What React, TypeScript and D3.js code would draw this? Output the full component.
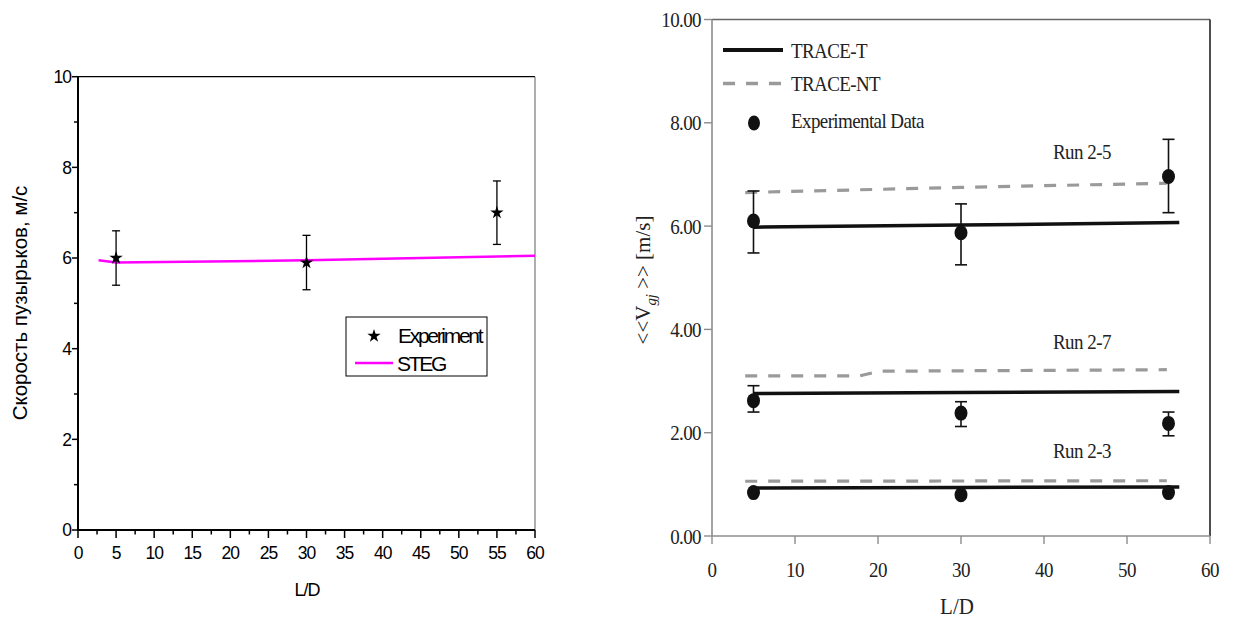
import React from "react";
import * as d3 from "d3";

// ---------- Left chart data ----------
const leftXTicks = [0, 5, 10, 15, 20, 25, 30, 35, 40, 45, 50, 55, 60];
const leftYTicks = [0, 2, 4, 6, 8, 10];
const expX = [5, 30, 55];
const expY = [6.0, 5.9, 7.0];
const expErr = [0.6, 0.6, 0.7];
const stegX = [2.7, 5, 30, 60];
const stegY = [5.95, 5.9, 5.95, 6.05];

// ---------- Right chart data ----------
const rightXTicks = [0, 10, 20, 30, 40, 50, 60];
const rightYTicks = [0, 2, 4, 6, 8, 10];
const rExpX = [5, 30, 55];
const run25Exp = [6.1, 5.87, 6.96];
const run25Lo = [5.48, 5.25, 6.26];
const run25Hi = [6.68, 6.43, 7.68];
const run27Exp = [2.62, 2.38, 2.18];
const run27Lo = [2.4, 2.12, 1.94];
const run27Hi = [2.91, 2.6, 2.4];
const run23Exp = [0.84, 0.8, 0.84];
const traceTX = [5, 30, 56.3];
const run25T = [5.98, 6.02, 6.07];
const run27T = [2.76, 2.78, 2.8];
const run23T = [0.93, 0.94, 0.95];
const run25NTX = [4, 30, 54.8];
const run25NT = [6.65, 6.75, 6.83];
const run27NTX = [4, 17.8, 20.2, 54.8];
const run27NT = [3.1, 3.1, 3.19, 3.22];
const run23NTX = [4, 54.8];
const run23NT = [1.06, 1.07];

const ARIAL = "'Liberation Sans', Arial, sans-serif";
const TIMES = "'Liberation Serif', 'Times New Roman', serif";

function SText(props: {
  x: number;
  y: number;
  sy?: number;
  anchor?: string;
  size?: number;
  ls?: number;
  children: React.ReactNode;
}) {
  const { x, y, sy = 1.15, anchor = "start", size = 19, ls = -0.6, children } = props;
  return (
    <text
      transform={`translate(${x},${y}) scale(1,${sy})`}
      textAnchor={anchor}
      fontFamily={TIMES}
      fontSize={size}
      fill="#222"
      letterSpacing={ls}
    >
      {children}
    </text>
  );
}

export default function App() {
  const lx = d3.scaleLinear().domain([0, 60]).range([78, 535]);
  const ly = d3.scaleLinear().domain([0, 10]).range([530, 76.7]);
  const lMinorX = d3.range(2.5, 60, 5);
  const lMinorY = d3.range(1, 10, 2);
  const stegLine = d3
    .line<number>()
    .x((_, i) => lx(stegX[i]))
    .y((d) => ly(d));
  const star = d3.symbol().type(d3.symbolStar).size(55)() as string;

  const rx = d3.scaleLinear().domain([0, 60]).range([712, 1210]);
  const ry = d3.scaleLinear().domain([0, 10]).range([536, 19.5]);
  const mk = (xs: number[]) =>
    d3
      .line<number>()
      .x((_, i) => rx(xs[i]))
      .y((d) => ry(d));

  const tLines = [run25T, run27T, run23T];
  const ntLines: [number[], number[]][] = [
    [run25NTX, run25NT],
    [run27NTX, run27NT],
    [run23NTX, run23NT],
  ];
  const expSets = [run25Exp, run27Exp, run23Exp];
  const errSets: [number[], number[]][] = [
    [run25Lo, run25Hi],
    [run27Lo, run27Hi],
  ];
  const runLabels = [
    { t: "Run 2-5", y: 7.3 },
    { t: "Run 2-7", y: 3.62 },
    { t: "Run 2-3", y: 1.51 },
  ];

  const gray = "#9a9a9a";
  const axisGray = "#8c8c8c";

  return (
    <svg
      width={1235}
      height={618}
      style={{ position: "absolute", left: 0, top: 0, background: "#fff" }}
    >
      <rect x={0} y={0} width={1235} height={618} fill="#fff" />

      {/* ================= LEFT CHART ================= */}
      <g>
        <line x1={lx(0)} x2={lx(60)} y1={ly(10)} y2={ly(10)} stroke="#000" strokeWidth={1.3} />
        <line x1={lx(60)} x2={lx(60)} y1={ly(10)} y2={ly(0)} stroke="#777" strokeWidth={1.2} />
        <line x1={lx(0)} x2={lx(0)} y1={ly(10)} y2={ly(0)} stroke="#000" strokeWidth={2} />
        <line x1={lx(0) - 1} x2={lx(60)} y1={ly(0)} y2={ly(0)} stroke="#000" strokeWidth={2} />
        {leftYTicks.map((t) => (
          <g key={"ly" + t}>
            <line x1={lx(0) - 6} x2={lx(0)} y1={ly(t)} y2={ly(t)} stroke="#000" strokeWidth={1.5} />
            <text
              x={lx(0) - 7}
              y={ly(t)}
              dy="0.36em"
              textAnchor="end"
              fontFamily={ARIAL}
              fontSize={17.5}
              letterSpacing={-1}
            >
              {t}
            </text>
          </g>
        ))}
        {lMinorY.map((t) => (
          <line key={"lmy" + t} x1={lx(0) - 4} x2={lx(0)} y1={ly(t)} y2={ly(t)} stroke="#000" strokeWidth={1.5} />
        ))}
        {leftXTicks.map((t) => (
          <g key={"lx" + t}>
            <line x1={lx(t)} x2={lx(t)} y1={ly(0)} y2={ly(0) + 8} stroke="#000" strokeWidth={1.5} />
            <text
              x={lx(t)}
              y={559}
              textAnchor="middle"
              fontFamily={ARIAL}
              fontSize={17.5}
              letterSpacing={-1}
            >
              {t}
            </text>
          </g>
        ))}
        {lMinorX.map((t) => (
          <line key={"lmx" + t} x1={lx(t)} x2={lx(t)} y1={ly(0)} y2={ly(0) + 4.5} stroke="#000" strokeWidth={1.5} />
        ))}
        <text x={307} y={596} textAnchor="middle" fontFamily={ARIAL} fontSize={18} letterSpacing={-1}>
          L/D
        </text>
        <text
          transform="translate(27,303) rotate(-90)"
          textAnchor="middle"
          fontFamily={ARIAL}
          fontSize={20.5}
          letterSpacing={0}
        >
          Скорость пузырьков, м/с
        </text>
        <path d={stegLine(stegY) as string} fill="none" stroke="#ff00ff" strokeWidth={2.5} />
        {expX.map((x, i) => {
          const cx = lx(x);
          const top = ly(expY[i] + expErr[i]);
          const bot = ly(expY[i] - expErr[i]);
          return (
            <g key={"le" + i}>
              <line x1={cx} x2={cx} y1={top} y2={bot} stroke="#000" strokeWidth={1.3} />
              <line x1={cx - 4} x2={cx + 4} y1={top} y2={top} stroke="#000" strokeWidth={1.3} />
              <line x1={cx - 4} x2={cx + 4} y1={bot} y2={bot} stroke="#000" strokeWidth={1.3} />
              <path d={star} transform={`translate(${cx},${ly(expY[i])})`} fill="#000" />
            </g>
          );
        })}
        <rect x={346} y={317} width={141} height={59} fill="#fff" stroke="#000" strokeWidth={1} />
        <path d={star} transform="translate(374,336)" fill="#000" />
        <text x={398} y={343} fontFamily={ARIAL} fontSize={21} letterSpacing={-2.3}>
          Experiment
        </text>
        <line x1={355} x2={393} y1={363} y2={363} stroke="#ff00ff" strokeWidth={2.5} />
        <text x={397} y={370.5} fontFamily={ARIAL} fontSize={21} letterSpacing={-2.3}>
          STEG
        </text>
      </g>

      {/* ================= RIGHT CHART ================= */}
      <g>
        <line x1={rx(0)} x2={rx(60)} y1={ry(10)} y2={ry(10)} stroke="#666" strokeWidth={1.3} />
        <line x1={rx(60)} x2={rx(60)} y1={ry(10)} y2={ry(0)} stroke="#222" strokeWidth={1.6} />
        <line x1={rx(0)} x2={rx(0)} y1={ry(10)} y2={ry(0)} stroke={axisGray} strokeWidth={1.6} />
        <line x1={rx(0)} x2={rx(60)} y1={ry(0)} y2={ry(0)} stroke={axisGray} strokeWidth={1.6} />
        {rightYTicks.map((t) => (
          <g key={"ry" + t}>
            <line x1={rx(0) - 8} x2={rx(0)} y1={ry(t)} y2={ry(t)} stroke={axisGray} strokeWidth={1.4} />
            <SText x={rx(0) - 11} y={ry(t) + 7.5} anchor="end">
              {t.toFixed(2)}
            </SText>
          </g>
        ))}
        {rightXTicks.map((t) => (
          <g key={"rx" + t}>
            <line x1={rx(t)} x2={rx(t)} y1={ry(0)} y2={ry(0) + 8} stroke={axisGray} strokeWidth={1.4} />
            <SText x={rx(t)} y={577} anchor="middle">
              {t}
            </SText>
          </g>
        ))}
        <SText x={957} y={614} anchor="middle" size={21} ls={0} sy={1.1}>
          L/D
        </SText>
        <text
          transform="translate(650,280) rotate(-90) scale(1.05,1.1)"
          textAnchor="middle"
          fontFamily={TIMES}
          fontSize={20}
          fill="#222"
        >
          {"<<V"}
          <tspan fontStyle="italic" fontSize={14} dy={5}>
            gj
          </tspan>
          <tspan dy={-5}>{" >> [m/s]"}</tspan>
        </text>

        {ntLines.map(([xs, ys], i) => (
          <path
            key={"nt" + i}
            d={mk(xs)(ys) as string}
            fill="none"
            stroke={gray}
            strokeWidth={3.2}
            strokeDasharray="12 11"
          />
        ))}
        {tLines.map((ys, i) => (
          <path key={"t" + i} d={mk(traceTX)(ys) as string} fill="none" stroke="#111" strokeWidth={3.5} />
        ))}
        {errSets.map(([lo, hi], s) =>
          rExpX.map((x, i) => {
            const cx = rx(x);
            return (
              <g key={`eb${s}-${i}`}>
                <line x1={cx} x2={cx} y1={ry(hi[i])} y2={ry(lo[i])} stroke="#111" strokeWidth={1.6} />
                <line x1={cx - 6} x2={cx + 6} y1={ry(hi[i])} y2={ry(hi[i])} stroke="#111" strokeWidth={1.6} />
                <line x1={cx - 6} x2={cx + 6} y1={ry(lo[i])} y2={ry(lo[i])} stroke="#111" strokeWidth={1.6} />
              </g>
            );
          })
        )}
        {expSets.map((ys, s) =>
          rExpX.map((x, i) => (
            <ellipse key={`ep${s}-${i}`} cx={rx(x)} cy={ry(ys[i])} rx={6.5} ry={7.5} fill="#111" />
          ))
        )}
        {runLabels.map((r) => (
          <SText key={r.t} x={1082} y={ry(r.y)} anchor="middle" ls={-0.5}>
            {r.t}
          </SText>
        ))}
        <line x1={723} x2={783} y1={50} y2={50} stroke="#111" strokeWidth={4} />
        <SText x={791} y={57.5}>TRACE-T</SText>
        <line x1={723} x2={783} y1={83.5} y2={83.5} stroke={gray} strokeWidth={3.5} strokeDasharray="12 11" />
        <SText x={791} y={90.5}>TRACE-NT</SText>
        <ellipse cx={754} cy={123} rx={6} ry={7.5} fill="#111" />
        <SText x={791} y={127.5}>Experimental Data</SText>
      </g>
    </svg>
  );
}
